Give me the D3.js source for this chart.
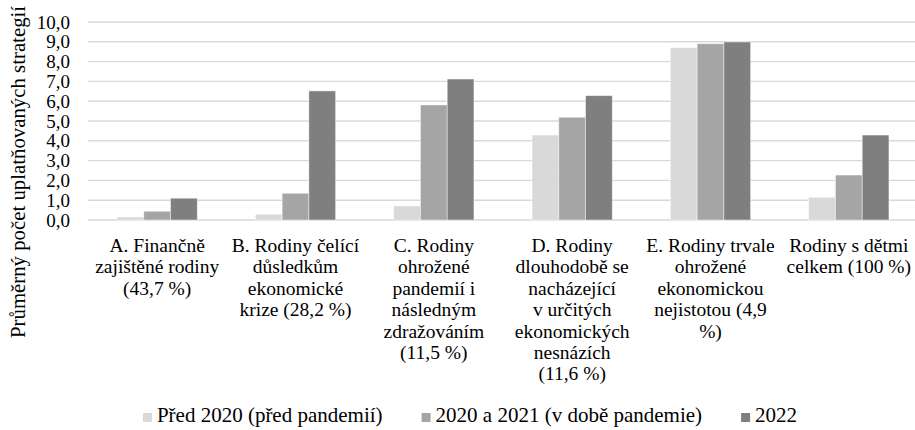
<!DOCTYPE html>
<html>
<head>
<meta charset="utf-8">
<script src="https://cdn.jsdelivr.net/npm/d3@7"></script>
<style>
  html, body { margin: 0; padding: 0; background: #fff; }
  svg { display: block; }
  svg text { font-family: "Liberation Serif", "Times New Roman", serif; }
</style>
</head>
<body>
<script>
// categories (label lines as wrapped in the original)
const categories = [
  ["A. Finančně", "zajištěné rodiny", "(43,7 %)"],
  ["B. Rodiny čelící", "důsledkům", "ekonomické", "krize (28,2 %)"],
  ["C. Rodiny", "ohrožené", "pandemií i", "následným", "zdražováním", "(11,5 %)"],
  ["D. Rodiny", "dlouhodobě se", "nacházející", "v určitých", "ekonomických", "nesnázích", "(11,6 %)"],
  ["E. Rodiny trvale", "ohrožené", "ekonomickou", "nejistotou (4,9", "%)"],
  ["Rodiny s dětmi", "celkem (100 %)"]
];
const seriesNames = ["Před 2020 (před pandemií)", "2020 a 2021 (v době pandemie)", "2022"];
const before2020 = [0.15, 0.29, 0.71, 4.29, 8.70, 1.15];
const pandemic = [0.44, 1.35, 5.81, 5.19, 8.90, 2.27];
const year2022 = [1.10, 6.52, 7.12, 6.28, 8.99, 4.29];
const yTicks = [0, 1, 2, 3, 4, 5, 6, 7, 8, 9, 10];
const yTitle = "Průměrný počet uplatňovaných strategií";
const colors = ["#d9d9d9", "#a5a5a5", "#7f7f7f"];

const W = 915, H = 430;
const serif = "'Liberation Serif', 'Times New Roman', serif";
const svg = d3.select("body").append("svg").attr("width", W).attr("height", H);

const series = [before2020, pandemic, year2022];
const idx = d3.range(categories.length);

let x = d3.scaleBand().domain(idx).range([88, 918]).paddingInner(0.42).paddingOuter(0.21);
let xs = d3.scaleBand().domain(d3.range(series.length)).range([0, x.bandwidth()]);
let y = d3.scaleLinear().domain([0, 10]).range([220, 22]);

// gridlines
svg.append("g").attr("class", "grid")
  .selectAll("line").data(yTicks).enter()
  .append("line")
    .attr("x1", 88).attr("x2", W)
    .attr("y1", d => y(d)).attr("y2", d => y(d))
    .style("stroke", "#d9d9d9")
    .style("stroke-width", 1.4);

// y axis labels
let fmt = d => d3.format(".1f")(d).replace(".", ",");
let axis_y = d3.axisLeft(y).tickValues(yTicks).tickFormat(fmt).tickSize(0).tickPadding(0);
let axis_y_draw = svg.append("g").attr("transform", "translate(70,0)").call(axis_y);
axis_y_draw.attr("font-family", null).attr("font-size", null);
axis_y_draw.select(".domain").remove();
axis_y_draw.selectAll("text")
  .attr("fill", "#000")
  .style("font-family", serif)
  .style("font-size", "19px");

// y title
svg.append("text")
  .attr("transform", "translate(25,338) rotate(-90)")
  .style("font-family", serif)
  .style("font-size", "20.8px")
  .attr("fill", "#000")
  .text(yTitle);

// bars
let groups = svg.append("g").attr("class", "bars")
  .selectAll("g").data(series).enter()
  .append("g")
  .attr("fill", (d, i) => colors[i]);
groups.selectAll("rect").data((d, si) => d.map((v, ci) => ({v, ci, si}))).enter()
  .append("rect")
    .attr("x", d => x(d.ci) + xs(d.si))
    .attr("y", d => y(d.v))
    .attr("width", xs.bandwidth())
    .attr("height", d => y(0) - y(d.v))
    .style("stroke", "#ffffff")
    .style("stroke-opacity", 0.55)
    .style("stroke-width", 0.8);

// category labels
let cat = svg.append("g").attr("class", "cats")
  .selectAll("text").data(categories).enter()
  .append("text")
    .attr("text-anchor", "middle")
    .attr("fill", "#000")
    .style("font-family", serif)
    .style("font-size", "19.5px")
    .attr("transform", (d, i) => `translate(${x(i) + x.bandwidth() / 2},252)`);
cat.selectAll("tspan").data(d => d).enter()
  .append("tspan")
    .attr("x", 0)
    .attr("y", (d, i) => i * 21.4)
    .text(d => d);

// legend
let legend = svg.append("g").attr("class", "legend");
let items = legend.selectAll("g").data(seriesNames).enter().append("g");
items.append("rect")
  .attr("width", 9).attr("height", 9)
  .attr("y", -9)
  .attr("fill", (d, i) => colors[i]);
items.append("text")
  .attr("x", 14)
  .attr("fill", "#000")
  .style("font-family", serif)
  .style("font-size", "21px")
  .text(d => d);
let gap = 39;
let pos = 0;
items.each(function () {
  d3.select(this).attr("transform", `translate(${pos},0)`);
  pos += this.getBBox().width + gap;
});
let total = pos - gap;
legend.attr("transform", `translate(${470 - total / 2},422)`);
</script>
</body>
</html>
